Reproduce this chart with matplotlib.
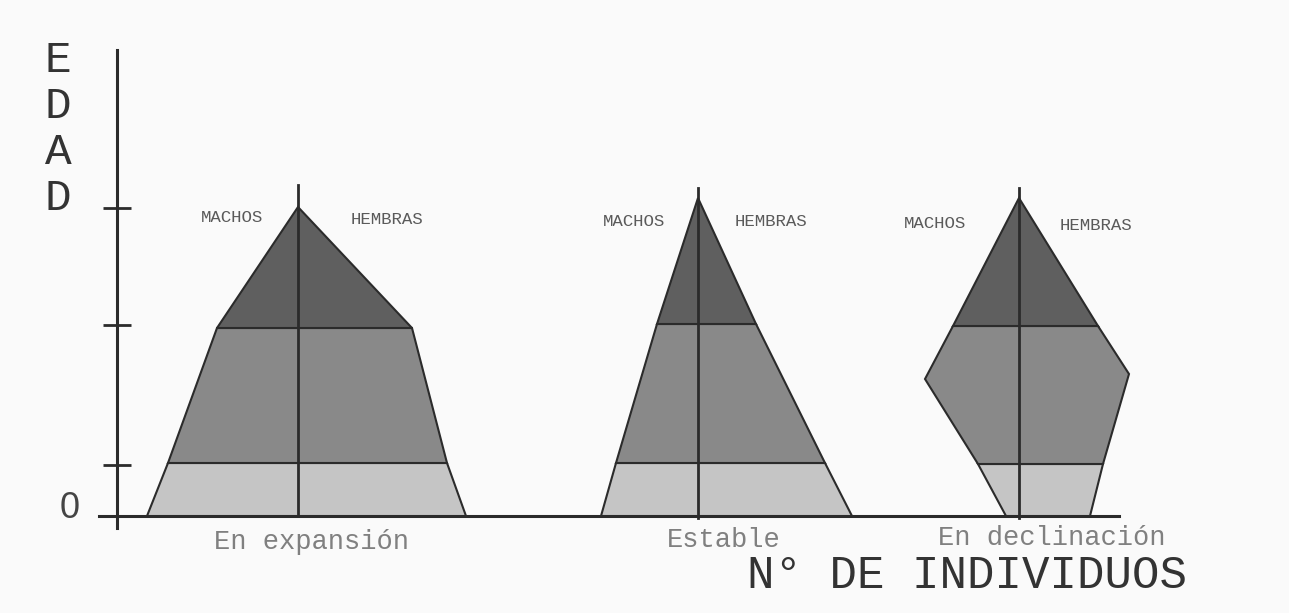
import numpy as np
import matplotlib
matplotlib.use("Agg")
import matplotlib.pyplot as plt
from matplotlib.patches import Polygon

# ---------------- data ----------------
pyramid_names = ["En expansión", "Estable", "En declinación"]
sex_labels = ["MACHOS", "HEMBRAS"]
age_ticks = [0, 51, 191, 308]
y_title = "EDAD"
x_title = "N° DE INDIVIDUOS"

# En expansión
exp_male_ages = [0, 53, 188, 309]
exp_males = [151, 130, 81, 0]
exp_female_ages = [0, 53, 188, 309]
exp_females = [168, 149, 114, 0]
exp_bands = [53, 188]

# Estable
est_male_ages = [0, 53, 192, 318]
est_males = [97, 82, 41, 0]
est_female_ages = [0, 53, 192, 318]
est_females = [154, 127, 58, 0]
est_bands = [53, 192]

# En declinación
dec_male_ages = [0, 52, 137, 190, 318]
dec_males = [13, 41, 94, 66, 0]
dec_female_ages = [0, 52, 142, 190, 318]
dec_females = [71, 84, 110, 79, 0]
dec_bands = [52, 190]

stem_tops = [331, 328, 328]

# ---------------- layout / style ----------------
centers = [298, 698, 1019]
name_pos = [(311, -26), (724, -24), (1052, -22)]
sex_pos = [((232, 298), (387, 297)), ((634, 294), (771, 294)), ((935, 293), (1096, 291))]
band_colors = ["#c5c5c5", "#898989", "#5f5f5f"]
line_col = "#2b2b2b"
bg = "#fafafa"
mono = "Liberation Mono"

pyramids = [
    (exp_male_ages, exp_males, exp_female_ages, exp_females, exp_bands),
    (est_male_ages, est_males, est_female_ages, est_females, est_bands),
    (dec_male_ages, dec_males, dec_female_ages, dec_females, dec_bands),
]

fig = plt.figure(figsize=(12.89, 6.13), dpi=100, facecolor=bg)
ax = fig.add_axes([0, 0, 1, 1], facecolor=bg)
ax.set_xlim(0, 1289)
ax.set_ylim(-97, 516)


def side(ages, widths, lo, hi):
    ages = np.asarray(ages, float)
    widths = np.asarray(widths, float)
    inner = (ages > lo) & (ages < hi)
    a = np.concatenate([[lo], ages[inner], [hi]])
    w = np.interp(a, ages, widths)
    return a, w


for i, (ma, mw, fa, fw, bands) in enumerate(pyramids):
    c = centers[i]
    top = max(ma[-1], fa[-1])
    bounds = [0] + list(bands) + [top]
    for b in range(3):
        lo, hi = bounds[b], bounds[b + 1]
        fa_, fw_ = side(fa, fw, lo, hi)
        ma_, mw_ = side(ma, mw, lo, hi)
        pts = [(c + w, a) for a, w in zip(fa_, fw_)]
        pts += [(c - w, a) for a, w in zip(ma_[::-1], mw_[::-1])]
        ax.add_patch(Polygon(pts, closed=True, facecolor=band_colors[b],
                             edgecolor=line_col, linewidth=1.5, joinstyle="miter", zorder=2))
    ax.plot([c, c], [-2 if i else 0, stem_tops[i]], color=line_col, lw=2.0, zorder=3)
    ax.text(*name_pos[i], pyramid_names[i], family=mono, fontsize=19.5,
            color="#808080", ha="center", va="center")
    for lab, pos in zip(sex_labels, sex_pos[i]):
        ax.text(*pos, lab, family=mono, fontsize=12.5, color="#5a5a5a",
                ha="center", va="center")

# axes
for s in ["top", "right"]:
    ax.spines[s].set_visible(False)
ax.spines["left"].set_position(("data", 117))
ax.spines["left"].set_bounds(-12, 466)
ax.spines["bottom"].set_position(("data", 0))
ax.spines["bottom"].set_bounds(99, 1119)
for s in ["left", "bottom"]:
    ax.spines[s].set_color(line_col)
    ax.spines[s].set_linewidth(2.2)
    ax.spines[s].set_zorder(1)
ax.set_xticks([])
ax.set_yticks(age_ticks)
ax.set_yticklabels([""] * len(age_ticks))
ax.tick_params(axis="y", direction="inout", length=20, width=2.0, color=line_col)

ax.text(70, 8, "0", family="Liberation Sans", fontsize=26, color="#444444",
        ha="center", va="center")
for k, ch in enumerate(y_title):
    ax.text(58, 456 - k * 46.3, ch, family=mono, fontsize=32, color="#333333",
            ha="center", va="center")
ax.text(967, -60, x_title, family=mono, fontsize=33, color="#333333",
        ha="center", va="center")

fig.savefig("out.png", dpi=100, facecolor=bg)
